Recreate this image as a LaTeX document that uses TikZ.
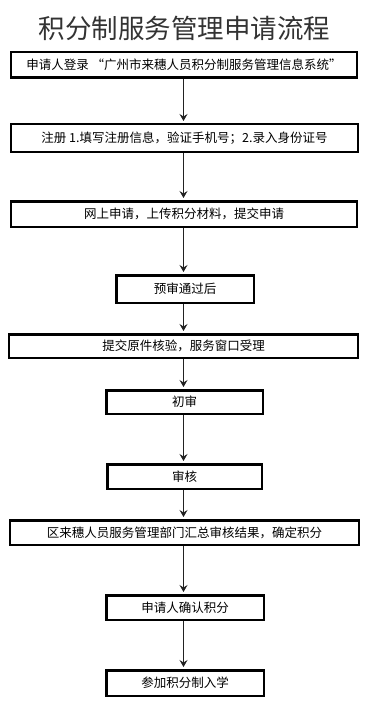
\documentclass[tikz,border=0pt]{standalone}
\usepackage{fontspec}
\setmainfont{Noto Sans CJK SC}
\usetikzlibrary{arrows.meta}
\definecolor{linegray}{HTML}{222222}
\definecolor{titlegray}{HTML}{333333}
\tikzset{
  box/.style={draw=black, line width=2.5bp, inner sep=0pt, font=\fontsize{12.5bp}{15bp}\selectfont, text=black},
  flow/.style={draw=linegray, line width=1.6bp, -{Stealth[length=7bp,width=8bp,inset=2.5bp]}, shorten >=2bp}
}
\begin{document}
\begin{tikzpicture}[x=1bp,y=-1bp]
\useasboundingbox (0,0) rectangle (369,726);
\node[font=\fontsize{26.5bp}{30bp}\selectfont, text=titlegray] (title) at (184.5,28) {积分制服务管理申请流程};
\node[box, minimum width=345.5bp, minimum height=25.5bp] (n1) at (184,65) {申请人登录 “广州市来穗人员积分制服务管理信息系统”};
\node[box, minimum width=346.5bp, minimum height=27.5bp] (n2) at (184.5,138) {注册 1.填写注册信息，验证手机号；2.录入身份证号};
\node[box, minimum width=345.5bp, minimum height=25.5bp] (n3) at (184,214) {网上申请，上传积分材料，提交申请};
\node[box, minimum width=137.5bp, minimum height=27.5bp] (n4) at (185,289) {预审通过后};
\node[box, minimum width=348.5bp, minimum height=23.5bp] (n5) at (183.5,346) {提交原件核验，服务窗口受理};
\node[box, minimum width=156.5bp, minimum height=23.5bp] (n6) at (184.5,402) {初审};
\node[box, minimum width=154.5bp, minimum height=24.5bp] (n7) at (184.5,476.5) {审核};
\node[box, minimum width=348.5bp, minimum height=24.5bp] (n8) at (184.5,532.5) {区来穗人员服务管理部门汇总审核结果，确定积分};
\node[box, minimum width=157.5bp, minimum height=24.5bp] (n9) at (185,607.5) {申请人确认积分};
\node[box, minimum width=157.5bp, minimum height=25.5bp] (n10) at (185,683) {参加积分制入学};
\coordinate (ax) at (183.5,0);
\foreach \a/\b in {n1/n2,n2/n3,n3/n4,n4/n5,n5/n6,n6/n7,n7/n8,n8/n9,n9/n10}{
  \draw[flow] (ax |- \a.south) -- (ax |- \b.north);
}
\end{tikzpicture}
\end{document}
